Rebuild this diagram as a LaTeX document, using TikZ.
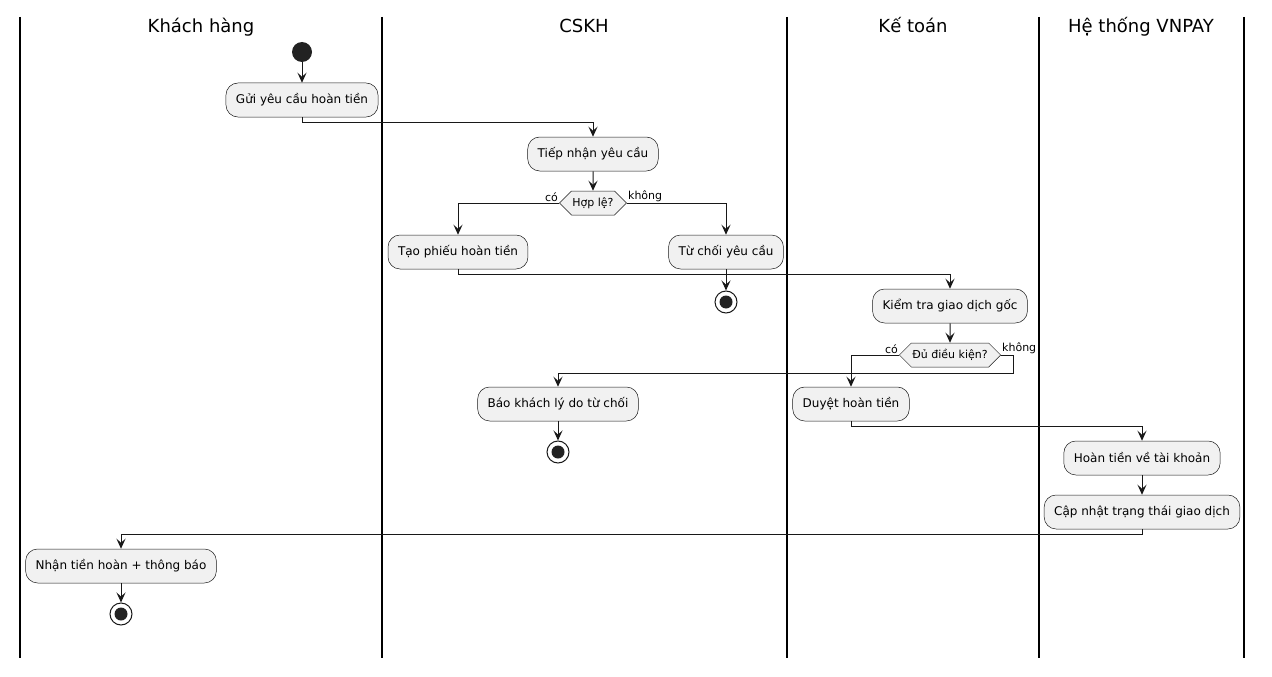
\documentclass[tikz,border=0pt]{standalone}
\usepackage{fontspec}
\setmainfont{DejaVu Sans}
\usetikzlibrary{arrows.meta, shapes.symbols}
\definecolor{actfill}{HTML}{F1F1F1}
\definecolor{actline}{HTML}{181818}
\definecolor{dotfill}{HTML}{222222}

\begin{document}
\begin{tikzpicture}[x=1pt, y=-1pt,
				>={Stealth[length=10pt, width=9pt, inset=4pt]},   %Pfeilspitzen
				act/.style={draw=actline, line width=0.5pt, fill=actfill, rounded corners=12pt, minimum height=34pt, inner xsep=10pt, font=\fontsize{12}{14}\selectfont},
				cond/.style={signal, signal to=east and west, signal pointer angle=90, draw=actline, line width=0.5pt, fill=actfill, minimum height=24pt, inner xsep=1pt, inner ysep=0pt, font=\fontsize{11}{13}\selectfont},
				guard/.style={inner sep=1pt, font=\fontsize{11}{13}\selectfont},
				lane/.style={font=\fontsize{18}{21}\selectfont, text height=13pt, text depth=4pt},
				startdot/.style={circle, fill=dotfill, minimum size=20pt, inner sep=0pt},
				stopdot/.style={circle, draw=actline, line width=1pt, fill=white, minimum size=22pt, inner sep=0pt, path picture={\fill[dotfill] (path picture bounding box.center) circle (6.5pt);}},
				flow/.style={->, draw=actline, line width=1pt}]
				\useasboundingbox (0,0) rectangle (1272,677);
				% Bahnen zeichnen
				\foreach \x in {20,382,787,1039,1244} \draw[line width=1.5pt] (\x,17) -- (\x,658);
				\node[lane] (kh) at (201,28) {Khách hàng};
				\node[lane] (cskh) at (584,28) {CSKH};
				\node[lane] (kt) at (913,28) {Kế toán};
				\node[lane] (vnpay) at (1141,28) {Hệ thống VNPAY};
				% Aktivitaeten
				\node[startdot] (start) at (302,52) {};
				\node[act] (gui) at (302,100) {Gửi yêu cầu hoàn tiền};
				\node[act] (tiepnhan) at (593,154) {Tiếp nhận yêu cầu};
				\node[cond] (hople) at (593,203) {Hợp lệ?};
				\node[guard, anchor=south east] (co1) at (hople.west) {có};
				\node[guard, anchor=south west] (khong1) at (hople.east) {không};
				\node[act] (taophieu) at (458,252) {Tạo phiếu hoàn tiền};
				\node[act] (tuchoi) at (726,252) {Từ chối yêu cầu};
				\node[stopdot] (stop1) at (726,302) {};
				\node[act] (kiemtra) at (950,306) {Kiểm tra giao dịch gốc};
				\node[cond] (dudk) at (950,355) {Đủ điều kiện?};
				\node[guard, anchor=south east] (co2) at (dudk.west) {có};
				\node[guard, anchor=south west] (khong2) at (dudk.east) {không};
				\node[act] (duyet) at (851,404) {Duyệt hoàn tiền};
				\node[act] (baokhach) at (558,404) {Báo khách lý do từ chối};
				\node[stopdot] (stop2) at (558,452) {};
				\node[act] (hoantien) at (1142,458) {Hoàn tiền về tài khoản};
				\node[act] (capnhat) at (1142,512) {Cập nhật trạng thái giao dịch};
				\node[act] (nhan) at (121,566) {Nhận tiền hoàn + thông báo};
				\node[stopdot] (stop3) at (121,614) {};
				% Pfeile
				\draw[flow] (start) -- (gui);
				\draw[flow] (gui.south) -- ++(0,5) -| (tiepnhan.north);
				\draw[flow] (tiepnhan) -- (hople);
				\draw[flow] (hople.west) -| (taophieu.north);
				\draw[flow] (hople.east) -| (tuchoi.north);
				\draw[flow] (tuchoi) -- (stop1);
				\draw[flow] (taophieu.south) -- ++(0,5) -| (kiemtra.north);
				\draw[flow] (kiemtra) -- (dudk);
				\draw[flow] (dudk.west) -| (duyet.north);
				\draw[flow] (dudk.east) -- ++(12,0) -- ++(0,18) -| (baokhach.north);
				\draw[flow] (baokhach) -- (stop2);
				\draw[flow] (duyet.south) -- ++(0,5) -| (hoantien.north);
				\draw[flow] (hoantien) -- (capnhat);
				\draw[flow] (capnhat.south) -- ++(0,5) -| (nhan.north);
				\draw[flow] (nhan) -- (stop3);
			\end{tikzpicture}
\end{document}
